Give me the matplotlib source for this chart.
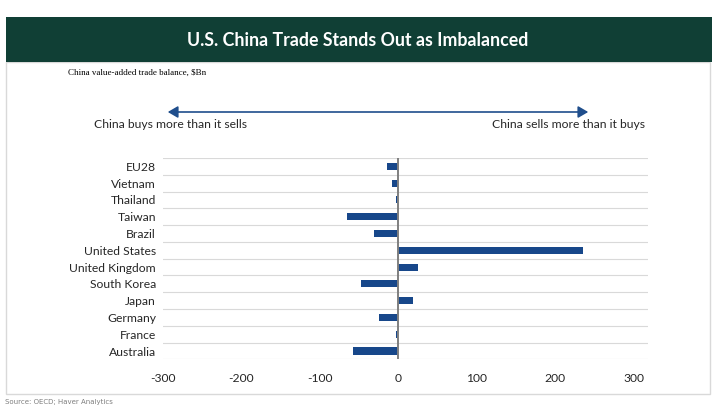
import matplotlib

matplotlib.use("Agg")
import matplotlib.pyplot as plt
from matplotlib.patches import Rectangle, FancyArrowPatch

# China value-added trade balance, $Bn (top to bottom)
countries = ["EU28", "Vietnam", "Thailand", "Taiwan", "Brazil", "United States",
             "United Kingdom", "South Korea", "Japan", "Germany", "France", "Australia"]
balance = [-14, -8, -2.5, -65, -31, 235, 25, -48, 18, -25, -2.5, -58]
xticks = [-300, -200, -100, 0, 100, 200, 300]

W, H = 716, 411
LAB = "Lato"
fig = plt.figure(figsize=(W / 100, H / 100), dpi=100)
fig.patch.set_facecolor("white")

# cadre gris + bandeau vert
fig.patches.append(Rectangle((6 / W, 1 - 394 / H), 704 / W, 332 / H, transform=fig.transFigure,
                             facecolor="none", edgecolor="#d9d9d9", lw=1))
fig.patches.append(Rectangle((6 / W, 1 - 62 / H), 706 / W, 45 / H, transform=fig.transFigure,
                             facecolor="#103f35", edgecolor="none"))
fig.text(358 / W, 1 - 40 / H, "U.S. China Trade Stands Out as Imbalanced", color="white",
         fontsize=12.8, fontweight="bold", family=LAB, ha="center", va="center")
fig.text(68 / W, 1 - 73 / H, "China value-added trade balance, $Bn", fontsize=6.5,
         family="Liberation Serif", ha="left", va="center")
fig.text(5 / W, 1 - 402 / H, "Source: OECD; Haver Analytics", fontsize=5, color="#7f7f7f",
         ha="left", va="center")

# fleche double
fig.add_artist(FancyArrowPatch(
    (165 / W, 1 - 112 / H), (591 / W, 1 - 112 / H), transform=fig.transFigure,
    arrowstyle="<|-|>,head_length=6,head_width=3.5", color="#1f4e8c", lw=1.2))
fig.text(170 / W, 1 - 125 / H, "China buys more than it sells", fontsize=8.7,
         family=LAB, ha="center", va="center", color="#262626")
fig.text(568 / W, 1 - 125 / H, "China sells more than it buys", fontsize=8.7,
         family=LAB, ha="center", va="center", color="#262626")

ax = fig.add_axes([163 / W, 1 - 359.4 / H, (648 - 163) / W, (359.4 - 158) / H])
y = list(range(len(countries)))
ax.barh(y, balance, height=0.42, color="#17478a", zorder=3)
ax.set_ylim(len(countries) - 0.5, -0.5)
ax.set_xlim(-300, 318)
for b in range(len(countries) + 1):
    ax.axhline(b - 0.5, color="#d9d9d9", lw=0.8, zorder=1)
ax.axvline(0, color="#7f7f7f", lw=1.4, zorder=4)

ax.set_yticks(y)
ax.set_yticklabels(countries, family=LAB, fontsize=8.7, color="#262626")
ax.set_xticks(xticks)
ax.set_xticklabels([str(t) for t in xticks], family=LAB, fontsize=8.7, color="#262626")
ax.tick_params(length=0)
ax.tick_params(axis="x", pad=10)
ax.tick_params(axis="y", pad=5)
for s in ax.spines.values():
    s.set_visible(False)

fig.savefig("out.png", dpi=100)
